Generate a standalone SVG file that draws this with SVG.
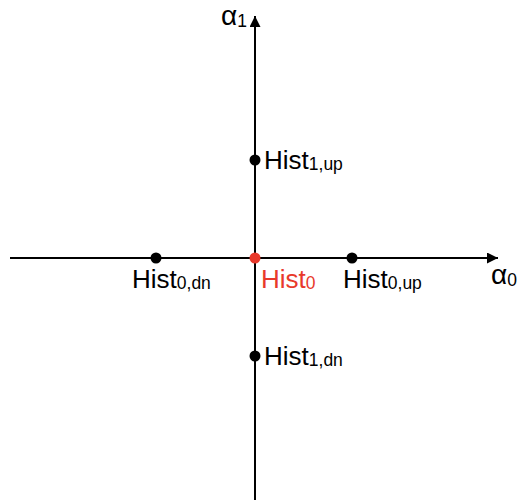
<svg xmlns="http://www.w3.org/2000/svg" width="521" height="500" viewBox="0 0 521 500">
<defs>
<style>
.ax{stroke:#000;stroke-width:2;fill:none}
.lbl{font-family:"Liberation Sans",Arial,sans-serif;font-size:26px;fill:#000}
.sub{font-size:17.5px}
.alpha{font-size:28px}
.red{fill:#e8392b}
</style>
<marker id="arr" viewBox="0 0 10 10" refX="10" refY="5" markerWidth="5.5" markerHeight="5.5" markerUnits="strokeWidth" orient="auto">
<path d="M0,0 L10,5 L0,10 z" fill="#000"/>
</marker>
</defs>
<rect width="521" height="500" fill="#fff"/>
<g id="connectors">
<line class="ax" x1="10" y1="258" x2="498" y2="258" marker-end="url(#arr)"/>
<line class="ax" x1="255" y1="500" x2="255" y2="16" marker-end="url(#arr)"/>
</g>
<g id="axis-alpha1"><text class="lbl alpha" x="221" y="25">α<tspan class="sub" dy="2">1</tspan></text></g>
<g id="axis-alpha0"><text class="lbl alpha" x="491" y="284">α<tspan class="sub" dy="2">0</tspan></text></g>
<g id="hist0dn"><circle cx="156" cy="258" r="5.5"/><text class="lbl" x="132" y="288">Hist<tspan class="sub" dy="1">0,dn</tspan></text></g>
<g id="hist0up"><circle cx="352" cy="258" r="5.5"/><text class="lbl" x="343" y="288">Hist<tspan class="sub" dy="1">0,up</tspan></text></g>
<g id="hist1up"><circle cx="255" cy="160" r="5.5"/><text class="lbl" x="264" y="169">Hist<tspan class="sub" dy="1">1,up</tspan></text></g>
<g id="hist1dn"><circle cx="255" cy="356" r="5.5"/><text class="lbl" x="264" y="365">Hist<tspan class="sub" dy="1">1,dn</tspan></text></g>
<g id="hist0"><circle cx="255" cy="258" r="5.5" class="red"/><text class="lbl red" x="261" y="288">Hist<tspan class="sub" dy="1">0</tspan></text></g>
</svg>
